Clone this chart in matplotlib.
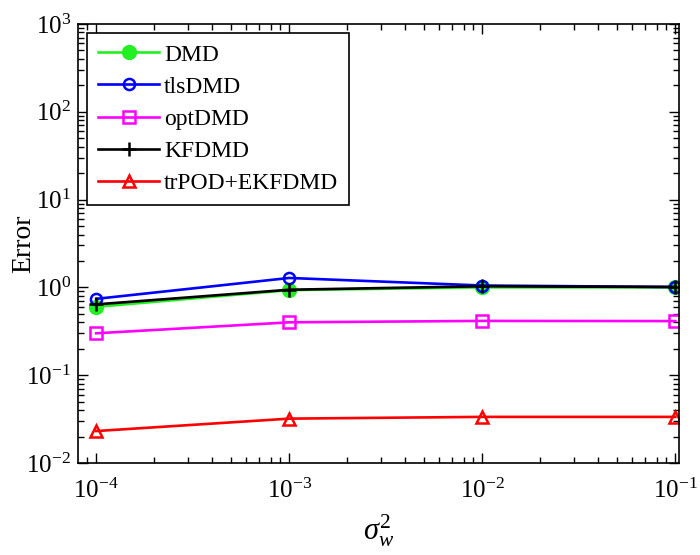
import matplotlib
matplotlib.use("Agg")
import matplotlib.pyplot as plt
from matplotlib.ticker import LogLocator, LogFormatterMathtext, NullFormatter

plt.rcParams['font.family'] = ['Liberation Serif', 'DejaVu Serif']
plt.rcParams['mathtext.fontset'] = 'custom'
plt.rcParams['mathtext.rm'] = 'Liberation Serif'
plt.rcParams['mathtext.it'] = 'Liberation Serif:italic'
plt.rcParams['mathtext.bf'] = 'Liberation Serif:bold'

sigma2 = [1e-4, 1e-3, 1e-2, 1e-1]
err_dmd = [0.60, 0.93, 1.00, 1.00]
err_tls = [0.74, 1.28, 1.05, 1.01]
err_opt = [0.30, 0.40, 0.415, 0.413]
err_kf = [0.64, 0.94, 1.03, 1.01]
err_tr = [0.0231, 0.0320, 0.0335, 0.0335]
labels = ['DMD', 'tlsDMD', 'optDMD', 'KFDMD', 'trPOD+EKFDMD']

fig = plt.figure(figsize=(7.0, 5.55), dpi=100)
ax = fig.add_axes([0.1114, 0.1658, 0.8586, 0.791])

lw = 1.9
green = '#22f022'
ax.plot(sigma2, err_dmd, '-', color=green, lw=lw, marker='o', ms=10,
        mfc=green, mec=green, label=labels[0])
ax.plot(sigma2, err_tls, '-', color='#0000ff', lw=lw, marker='o', ms=8,
        mfc='none', mec='#0000ff', mew=1.8, label=labels[1])
ax.plot(sigma2, err_opt, '-', color='#ff00ff', lw=lw, marker='s', ms=8,
        mfc='none', mec='#ff00ff', mew=1.8, label=labels[2])
ax.plot(sigma2, err_kf, '-', color='black', lw=lw, marker='+', ms=10,
        mec='black', mew=1.8, label=labels[3])
ax.plot(sigma2, err_tr, '-', color='#ff0000', lw=lw, marker='^', ms=9,
        mfc='none', mec='#ff0000', mew=1.8, label=labels[4])

ax.set_xscale('log')
ax.set_yscale('log')
ax.set_xlim(8.05e-5, 0.1045)
ax.set_ylim(1e-2, 1e3)

ax.xaxis.set_major_locator(LogLocator(base=10, numticks=10))
ax.yaxis.set_major_locator(LogLocator(base=10, numticks=10))
ax.xaxis.set_minor_locator(LogLocator(base=10, subs=range(2, 10), numticks=20))
ax.yaxis.set_minor_locator(LogLocator(base=10, subs=range(2, 10), numticks=20))
ax.xaxis.set_major_formatter(LogFormatterMathtext())
ax.yaxis.set_major_formatter(LogFormatterMathtext())
ax.xaxis.set_minor_formatter(NullFormatter())
ax.yaxis.set_minor_formatter(NullFormatter())

ax.tick_params(which='both', direction='in', top=True, right=True, width=1.0)
ax.tick_params(which='major', length=7, labelsize=18)
ax.tick_params(axis='x', which='major', pad=11)
ax.tick_params(axis='y', which='major', pad=5)
ax.tick_params(which='minor', length=4)
for sp in ax.spines.values():
    sp.set_linewidth(1.2)

ax.set_ylabel('Error', fontsize=20)
ax.yaxis.set_label_coords(-0.07, 0.5)
ax.set_xlabel(r'$\sigma_w^2$', fontsize=22, labelpad=7)

leg = ax.legend(loc='upper left', fontsize=17, frameon=True, fancybox=False,
                edgecolor='black', framealpha=1, handlelength=2.6,
                borderaxespad=0.4, labelspacing=0.45, handletextpad=0.2,
                borderpad=0.45)
leg.get_frame().set_linewidth(1.2)

fig.savefig('out.png', dpi=100)
